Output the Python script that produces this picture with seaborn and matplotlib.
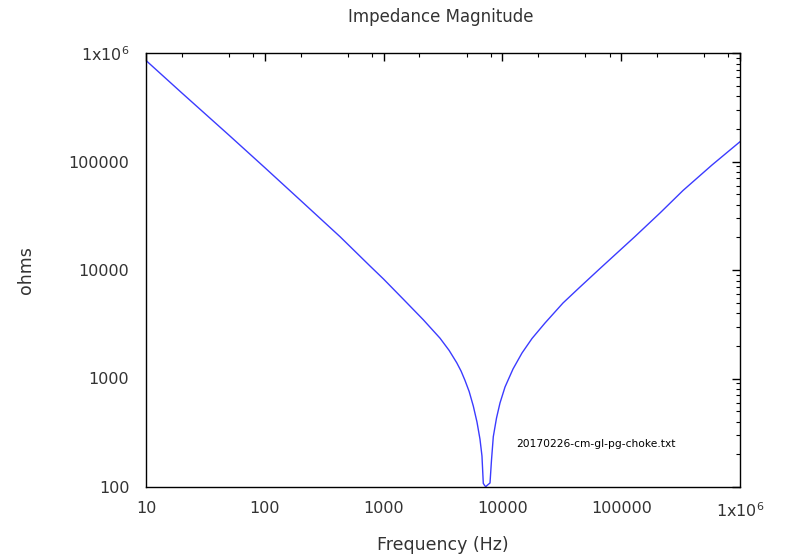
import numpy as np
import pandas as pd
import matplotlib
matplotlib.use('Agg')
import matplotlib.pyplot as plt
import matplotlib.ticker as mticker
import seaborn as sns

sns.set_style('white')
plt.rcParams['font.family'] = ['DejaVu Sans']
plt.rcParams['mathtext.fontset'] = 'dejavusans'

# impedance sweep
freq_hz = [10, 20, 50, 100, 200, 430, 770, 1000, 1490, 2160, 2985, 3560,
           4125, 4490, 4840, 5250, 5690, 6110, 6475, 6730, 6905, 7100, 7250,
           7400, 7865, 8095, 8383, 8920, 9545, 10520, 12280, 14620, 17750,
           22840, 32370, 45010, 66300, 130700, 212100, 331300, 581100, 1000000]
ohms = [853000, 429000, 174700, 87800, 43800, 20270, 10860, 8245, 5280, 3475,
        2352, 1816, 1398, 1170, 962, 759, 557, 397, 276, 193, 108, 103, 100.5,
        103, 108.9, 177, 291, 432, 595, 835, 1223, 1718, 2337, 3247, 4965,
        6970, 10320, 20360, 33520, 54040, 92830, 152200]

x_ticks = [10, 100, 1000, 10000, 100000, 1000000]
x_labels = ['10', '100', '1000', '10000', '100000', '1x10$^6$']
y_ticks = [100, 1000, 10000, 100000, 1000000]
y_labels = ['100', '1000', '10000', '100000', '1x10$^6$']

df = pd.DataFrame({'freq': freq_hz, 'ohms': ohms})

fig = plt.figure(figsize=(7.86, 5.55), dpi=100)
ax = fig.add_axes([146 / 786, 1 - 487 / 555, (740 - 146) / 786, (487 - 53) / 555])

sns.lineplot(data=df, x='freq', y='ohms', ax=ax, color='#3b3bff', linewidth=1.0,
             estimator=None, sort=False)

ax.set_xscale('log')
ax.set_yscale('log')
ax.set_xlim(10, 1e6)
ax.set_ylim(100, 1e6)

ax.xaxis.set_major_locator(mticker.FixedLocator(x_ticks))
ax.xaxis.set_major_formatter(mticker.FixedFormatter(x_labels))
ax.xaxis.set_minor_locator(mticker.LogLocator(base=10, subs=(2, 5, 8)))
ax.xaxis.set_minor_formatter(mticker.NullFormatter())
ax.yaxis.set_major_locator(mticker.FixedLocator(y_ticks))
ax.yaxis.set_major_formatter(mticker.FixedFormatter(y_labels))
ax.yaxis.set_minor_locator(mticker.LogLocator(base=10, subs=np.arange(2, 10)))
ax.yaxis.set_minor_formatter(mticker.NullFormatter())

ax.tick_params(which='both', direction='in', top=True, right=True,
               color='black', labelcolor='#333333', labelsize=11.5)
ax.tick_params(which='major', length=6, width=1, pad=10)
ax.tick_params(which='minor', length=3, width=0.8)
ax.tick_params(axis='y', which='major', pad=12)

for s in ax.spines.values():
    s.set_color('black')
    s.set_linewidth(1.0)

ax.set_xlabel('Frequency (Hz)', fontsize=12.5, color='#333333', labelpad=12)
ax.set_ylabel('ohms', fontsize=12.5, color='#333333', labelpad=24)
fig.text(441 / 786, 1 - 17 / 555, 'Impedance Magnitude', ha='center', va='center',
         fontsize=12, color='#333333')
ax.text(13000, 249, '20170226-cm-gl-pg-choke.txt', fontsize=7.7, color='black',
        va='center', ha='left')

fig.savefig('out.png', dpi=100)
